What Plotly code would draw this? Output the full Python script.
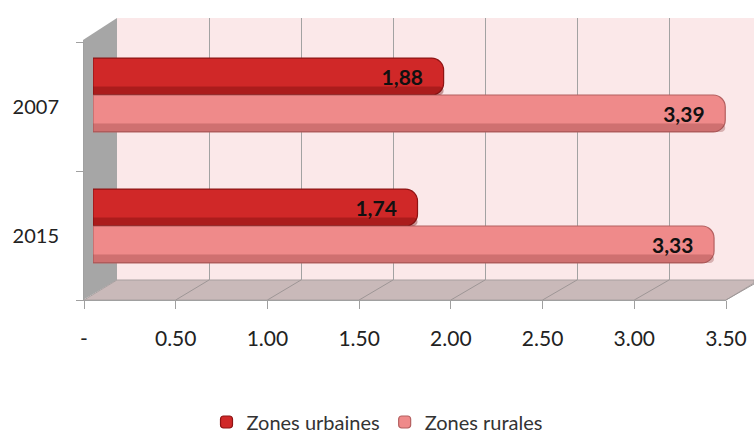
import plotly.graph_objects as go

# --- données ---------------------------------------------------------------
years = ["2007", "2015"]
urbaines = [1.88, 1.74]
rurales = [3.39, 3.33]
tick_vals = [0, 0.5, 1.0, 1.5, 2.0, 2.5, 3.0, 3.5]
tick_text = ["-", "0.50", "1.00", "1.50", "2.00", "2.50", "3.00", "3.50"]

W, H = 754, 437
FONT = "Lato, 'Open Sans', Arial"

C_URB = "#d02828"
C_URB_DARK = "rgba(110,10,10,0.38)"
C_URB_EDGE = "#8e1414"
C_RUR = "#ef8a8a"
C_RUR_DARK = "rgba(140,60,60,0.32)"
C_RUR_EDGE = "#b46060"


def px(x):
    return x / W


def py(y):
    return 1 - y / H


# géométrie "3D" (pixels) : mur du fond, sol, axe avant
BACK_X0, BACK_UNIT, BACK_TOP, BACK_BOTTOM = 117, 184, 18, 280
FRONT_X0, FRONT_X1, FRONT_Y = 84, 726, 300
BAR_X0, BAR_UNIT = 93, 186.5
BAR_W = 0.282      # épaisseur d'une barre (unités de catégorie)
SHADE_W = 0.065    # bande sombre en bas du cylindre


def front_x(v):
    return FRONT_X0 + v * (FRONT_X1 - FRONT_X0) / tick_vals[-1]


def back_x(v):
    return BACK_X0 + v * BACK_UNIT


def fmt(v):
    return f"{v:.2f}".replace(".", ",") + "\u00a0\u00a0\u00a0"


fig = go.Figure()

# trace invisible pour faire exister la grille du mur du fond (x/y)
fig.add_trace(go.Scatter(
    x=[0], y=[0], mode="markers", marker=dict(opacity=0),
    showlegend=False, hoverinfo="skip", xaxis="x", yaxis="y",
))

# barres (sous-graphe x2/y2)
series = [
    ("Zones urbaines", urbaines, C_URB, C_URB_EDGE, C_URB_DARK, -BAR_W),
    ("Zones rurales", rurales, C_RUR, C_RUR_EDGE, C_RUR_DARK, 0.0),
]
for name, vals, col, edge, _, off in series:
    fig.add_trace(go.Bar(
        y=years, x=vals, orientation="h", name=name,
        width=BAR_W, offset=off,
        marker=dict(color=col, line=dict(color=edge, width=1.2)),
        text=[fmt(v) for v in vals], textposition="inside",
        insidetextanchor="end", textangle=0,
        textfont=dict(family=FONT, size=21, color="#111111", weight="bold"),
        xaxis="x2", yaxis="y2",
    ))
for name, vals, _, _, dark, off in series:
    fig.add_trace(go.Bar(
        y=years, x=vals, orientation="h", name=name,
        width=SHADE_W, offset=off + BAR_W - SHADE_W,
        marker=dict(color=dark, line=dict(width=0)),
        showlegend=False, hoverinfo="skip",
        xaxis="x2", yaxis="y2",
    ))

# trace invisible pour les axes avant (x3/y3)
fig.add_trace(go.Scatter(
    x=[0], y=[0], mode="markers", marker=dict(opacity=0),
    showlegend=False, hoverinfo="skip", xaxis="x3", yaxis="y3",
))

# décor : mur gauche, mur du fond, sol
shapes = []
shapes.append(dict(
    type="rect", xref="paper", yref="paper", layer="below",
    x0=px(BACK_X0), x1=1, y0=py(BACK_BOTTOM), y1=py(BACK_TOP),
    fillcolor="#fbe8e9", line=dict(width=0),
))
shapes.append(dict(
    type="path", xref="paper", yref="paper", layer="below",
    path=(f"M {px(FRONT_X0 - 1)},{py(40)} L {px(BACK_X0)},{py(BACK_TOP)} "
          f"L {px(BACK_X0)},{py(BACK_BOTTOM)} L {px(FRONT_X0 - 1)},{py(FRONT_Y)} Z"),
    fillcolor="#a6a6a6", line=dict(width=0),
))
shapes.append(dict(
    type="path", xref="paper", yref="paper", layer="below",
    path=(f"M {px(FRONT_X0)},{py(FRONT_Y)} L {px(BACK_X0)},{py(BACK_BOTTOM)} "
          f"L 1,{py(BACK_BOTTOM)} L 1,{py(283)} L {px(FRONT_X1)},{py(FRONT_Y)} Z"),
    fillcolor="#c9b9b9", line=dict(color="#a8a0a0", width=1),
))
for v in tick_vals[1:]:
    bx = back_x(v)
    fx = front_x(v)
    by = BACK_BOTTOM
    if bx > W:
        t = (W - fx) / (bx - fx)
        by = FRONT_Y + t * (BACK_BOTTOM - FRONT_Y)
        bx = W
    shapes.append(dict(
        type="line", xref="paper", yref="paper", layer="below",
        x0=px(fx), y0=py(FRONT_Y), x1=px(bx), y1=py(by),
        line=dict(color="#9e9696", width=1),
    ))

fig.update_layout(
    width=W, height=H,
    margin=dict(l=0, r=0, t=0, b=0, autoexpand=False),
    paper_bgcolor="white",
    plot_bgcolor="rgba(0,0,0,0)",
    font=dict(family=FONT, size=20, color="#222222"),
    barmode="group",
    bargap=0.435,
    bargroupgap=0,
    barcornerradius=12,
    shapes=shapes,
    showlegend=True,
    legend=dict(
        orientation="h", x=0.5, xanchor="center", y=py(422), yanchor="middle",
        font=dict(size=20, color="#333333"), itemwidth=30,
        traceorder="normal",
    ),
    # grille du mur du fond
    xaxis=dict(
        domain=[px(BACK_X0), 1], range=[0, (W - BACK_X0) / BACK_UNIT],
        dtick=0.5, showgrid=True, gridcolor="#a2a2a2", gridwidth=1.2,
        zeroline=False, showticklabels=False, ticks="", showline=False,
        anchor="y", fixedrange=True,
    ),
    yaxis=dict(
        domain=[py(BACK_BOTTOM), py(BACK_TOP)], range=[0, 1],
        showgrid=False, zeroline=False, showticklabels=False, ticks="",
        anchor="x", fixedrange=True,
    ),
    # barres
    xaxis2=dict(
        domain=[px(BAR_X0), px(BAR_X0 + 3.5 * BAR_UNIT)], range=[0, 3.5],
        visible=False, anchor="y2", fixedrange=True,
    ),
    yaxis2=dict(
        domain=[py(FRONT_Y), py(BACK_TOP)], range=[1.565, -0.588],
        type="category", categoryarray=years, visible=False,
        anchor="x2", fixedrange=True,
    ),
    # axes avant (étiquettes)
    xaxis3=dict(
        domain=[px(FRONT_X0), px(FRONT_X1)], range=[0, 3.5],
        tickvals=tick_vals, ticktext=tick_text,
        ticks="outside", ticklen=8, tickcolor="#a0a0a0",
        showline=True, linecolor="#a0a0a0", linewidth=1,
        showgrid=False, zeroline=False, ticklabelstandoff=12,
        tickfont=dict(size=21, color="#222222"),
        anchor="y3", fixedrange=True,
    ),
    yaxis3=dict(
        domain=[py(FRONT_Y), py(42)], range=[1.5, -0.5],
        tickvals=[0, 1], ticktext=years, ticks="",
        minor=dict(tickvals=[-0.5, 0.5, 1.5], ticks="outside", ticklen=7,
                   tickcolor="#a0a0a0", showgrid=False),
        showline=True, linecolor="#a0a0a0", linewidth=1,
        showgrid=False, zeroline=False, ticklabelstandoff=20,
        tickfont=dict(size=20, color="#222222"),
        anchor="x3", fixedrange=True,
    ),
)

fig.write_html(
    "out.html",
    config={"displayModeBar": False},
    post_script="document.body.style.margin='0';",
)
